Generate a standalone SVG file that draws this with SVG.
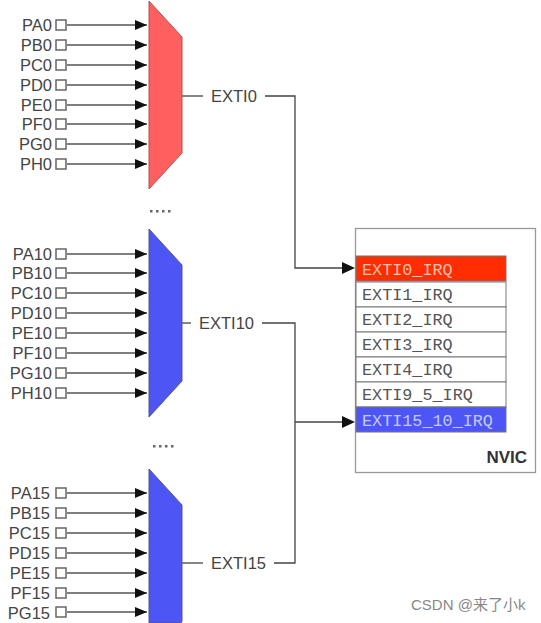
<svg xmlns="http://www.w3.org/2000/svg" width="541" height="623" viewBox="0 0 541 623">
<style>
text{font-family:"Liberation Sans",Arial,sans-serif;font-size:16.5px;fill:#444}
.p{text-anchor:end}
.b{fill:#fff;stroke:#666;stroke-width:1.5}
.w{fill:none;stroke:#444;stroke-width:1.3}
.in{stroke:#555;stroke-width:1.3;fill:none;marker-end:url(#a)}
.m{font-family:"Liberation Mono",monospace;font-size:16.8px;fill:#555}
.r{fill:#fff;stroke:#777;stroke-width:1}
.dots{fill:#666}
</style>
<defs>
<marker id="a" markerUnits="userSpaceOnUse" markerWidth="12" markerHeight="10" refX="12" refY="5" orient="auto"><path d="M0 0L12 5L0 10Z" fill="#111"/></marker>
</defs>
<rect width="541" height="623" fill="#fff"/>

<g id="connectors">
<g class="in">
<path d="M67 25H147"/><path d="M67 45H147"/><path d="M67 65H147"/><path d="M67 85H147"/><path d="M67 105H147"/><path d="M67 124H147"/><path d="M67 144H147"/><path d="M67 164H147"/>
<path d="M67 254H147"/><path d="M67 273H147"/><path d="M67 293H147"/><path d="M67 313H147"/><path d="M67 333H147"/><path d="M67 353H147"/><path d="M67 373H147"/><path d="M67 393H147"/>
<path d="M67 493H147"/><path d="M67 513H147"/><path d="M67 533H147"/><path d="M67 553H147"/><path d="M67 573H147"/><path d="M67 593H147"/><path d="M67 612H147"/>
</g>
<path class="w" d="M182 96H203"/>
<path class="w" d="M265 96H295V268H343"/>
<path class="w" d="M182 323H191"/>
<path class="w" d="M262 323H295V563H274"/>
<path class="w" d="M182 563H203"/>
<path class="w" d="M295 422H343"/>
<path d="M342 262L355 268L342 274Z" fill="#111"/>
<path d="M342 416L355 422L342 428Z" fill="#111"/>
</g>

<g id="mux-exti0">
<path d="M149 1L182 37V153L149 189Z" fill="#ff5f5f" stroke="#a55" stroke-width="1"/>
<rect class="b" x="56" y="20" width="10" height="10"/><rect class="b" x="56" y="40" width="10" height="10"/><rect class="b" x="56" y="60" width="10" height="10"/><rect class="b" x="56" y="80" width="10" height="10"/><rect class="b" x="56" y="100" width="10" height="10"/><rect class="b" x="56" y="119" width="10" height="10"/><rect class="b" x="56" y="139" width="10" height="10"/><rect class="b" x="56" y="159" width="10" height="10"/>
<text class="p" x="52" y="31">PA0</text><text class="p" x="52" y="51">PB0</text><text class="p" x="52" y="71">PC0</text><text class="p" x="52" y="91">PD0</text><text class="p" x="52" y="111">PE0</text><text class="p" x="52" y="130">PF0</text><text class="p" x="52" y="150">PG0</text><text class="p" x="52" y="170">PH0</text>
<text x="211" y="102">EXTI0</text>
</g>

<g id="mux-exti10">
<path d="M149 229L182 265V381L149 417Z" fill="#4d55f5" stroke="#558" stroke-width="1"/>
<rect class="b" x="56" y="249" width="10" height="10"/><rect class="b" x="56" y="268" width="10" height="10"/><rect class="b" x="56" y="288" width="10" height="10"/><rect class="b" x="56" y="308" width="10" height="10"/><rect class="b" x="56" y="328" width="10" height="10"/><rect class="b" x="56" y="348" width="10" height="10"/><rect class="b" x="56" y="368" width="10" height="10"/><rect class="b" x="56" y="388" width="10" height="10"/>
<text class="p" x="52" y="260">PA10</text><text class="p" x="52" y="279">PB10</text><text class="p" x="52" y="299">PC10</text><text class="p" x="52" y="319">PD10</text><text class="p" x="52" y="339">PE10</text><text class="p" x="52" y="359">PF10</text><text class="p" x="52" y="379">PG10</text><text class="p" x="52" y="399">PH10</text>
<text x="199" y="329">EXTI10</text>
</g>

<g id="mux-exti15">
<path d="M149 469L182 505V621Q182 623 180 623H149Z" fill="#4d55f5" stroke="#558" stroke-width="1"/>
<rect class="b" x="56" y="488" width="10" height="10"/><rect class="b" x="56" y="508" width="10" height="10"/><rect class="b" x="56" y="528" width="10" height="10"/><rect class="b" x="56" y="548" width="10" height="10"/><rect class="b" x="56" y="568" width="10" height="10"/><rect class="b" x="56" y="588" width="10" height="10"/><rect class="b" x="56" y="607" width="10" height="10"/>
<text class="p" x="50" y="499">PA15</text><text class="p" x="50" y="519">PB15</text><text class="p" x="50" y="539">PC15</text><text class="p" x="50" y="559">PD15</text><text class="p" x="50" y="579">PE15</text><text class="p" x="50" y="599">PF15</text><text class="p" x="50" y="619">PG15</text>
<text x="211" y="569">EXTI15</text>
</g>

<g id="ellipsis-1" class="dots"><rect x="150" y="210" width="2.5" height="2.5"/><rect x="156" y="210" width="2.5" height="2.5"/><rect x="162" y="210" width="2.5" height="2.5"/><rect x="168" y="210" width="2.5" height="2.5"/></g>
<g id="ellipsis-2" class="dots"><rect x="153" y="445" width="2.5" height="2.5"/><rect x="159" y="445" width="2.5" height="2.5"/><rect x="165" y="445" width="2.5" height="2.5"/><rect x="171" y="445" width="2.5" height="2.5"/></g>

<g id="nvic">
<rect x="355.500" y="228.500" width="180" height="244" fill="#fff" stroke="#999" stroke-width="1.300"/>
<text x="527" y="463" text-anchor="end" style="font-weight:700;fill:#333;font-size:17px">NVIC</text>
<g id="irq0"><rect x="356" y="256" width="150" height="25" fill="#ff2d00" stroke="#777"/><text class="m" x="362" y="275" style="fill:#ffc0b0">EXTI0_IRQ</text></g>
<g id="irq1"><rect class="r" x="356" y="282" width="150" height="25"/><text class="m" x="362" y="300">EXTI1_IRQ</text></g>
<g id="irq2"><rect class="r" x="356" y="307" width="150" height="25"/><text class="m" x="362" y="325">EXTI2_IRQ</text></g>
<g id="irq3"><rect class="r" x="356" y="332" width="150" height="25"/><text class="m" x="362" y="350">EXTI3_IRQ</text></g>
<g id="irq4"><rect class="r" x="356" y="357" width="150" height="25"/><text class="m" x="362" y="375">EXTI4_IRQ</text></g>
<g id="irq5"><rect class="r" x="356" y="382" width="150" height="25"/><text class="m" x="362" y="400">EXTI9_5_IRQ</text></g>
<g id="irq6"><rect x="356" y="407" width="150" height="25" fill="#4d55f5" stroke="#777"/><text class="m" x="362" y="426" style="fill:#c5cbff">EXTI15_10_IRQ</text></g>
</g>

<text x="411" y="610" style="font-family:'Liberation Sans','Noto Sans CJK SC',sans-serif;font-size:15px;fill:#888">CSDN @来了小k</text>
</svg>
